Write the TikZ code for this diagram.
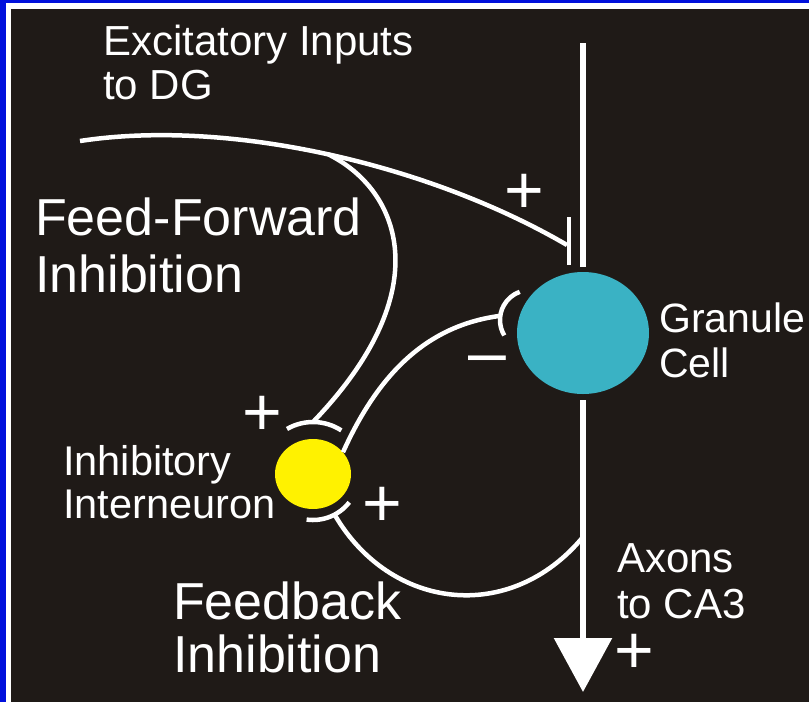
\documentclass[tikz,border=0pt]{standalone}
\usepackage{fontspec}
\setmainfont{Liberation Sans}
\usetikzlibrary{shapes.geometric, arrows.meta}
\definecolor{Frame}   {RGB}{0,   16, 220}
\definecolor{Panel}   {RGB}{31,  26,  23}
\definecolor{Granule} {RGB}{58, 178, 196}
\definecolor{Inter}   {RGB}{255, 242,  0}

\begin{document}
\begin{tikzpicture}[x=1pt, y=-1pt,
  fiber/.style = {draw=white, line width=4.5pt},
  axon/.style  = {draw=white, line width=6pt},
  soma/.style  = {ellipse, draw=none, inner sep=0pt},
  lbl/.style   = {text=white, anchor=base west, align=left, inner sep=0pt},
  sgn/.style   = {text=white, anchor=base, inner sep=0pt,
                  font=\fontsize{68}{68}\selectfont}
]
  %% frame and panel
  \fill[Frame] (0,0) rectangle (809,702);
  \fill[white] (6,3) rectangle (809,702);
  \fill[Panel] (11,9) rectangle (809,702);
  \useasboundingbox (0,0) rectangle (809,702);

  %% cells
  \node[soma, fill=Granule, minimum width=132pt, minimum height=122pt]
    (gran) at (583,333) {};
  \node[soma, fill=Inter, minimum width=76pt, minimum height=70pt]
    (inter) at (313,474) {};

  %% granule cell axon to CA3
  \coordinate (axtop) at (583,43);
  \coordinate (axend) at (583,692);
  \coordinate (fbk)   at (583,537);
  \draw[axon] (axtop) -- ([yshift=5pt]gran.north);
  \draw[axon, -{Triangle[length=54pt, width=57pt]}]
    ([yshift=-6pt]gran.south) -- (axend);

  %% excitatory input and its synapse
  \coordinate (in)    at (80,141);
  \coordinate (exsyn) at (567,245);
  \draw[fiber] (in) .. controls (230,118) and (430,165) ..
    coordinate[pos=0.5] (br) (exsyn);
  \draw[fiber] ([shift={(2,-28)}]exsyn) -- ([shift={(2,20)}]exsyn);

  %% feed-forward branch onto the interneuron
  \coordinate (ffcup) at ([shift={(270:52)}]inter.center);
  \draw[fiber] ([shift={(240:52)}]inter.center)
    arc[start angle=240, end angle=303, radius=52];
  \draw[fiber] (br) .. controls (400,190) and (440,290) .. (ffcup);

  %% interneuron onto granule cell
  \coordinate (gcupc) at ([shift={(-53,-13)}]gran.center);
  \coordinate (gcup)  at ([shift={(188:30)}]gcupc);
  \draw[fiber] ([shift={(149:30)}]gcupc)
    arc[start angle=149, end angle=250, radius=30];
  \draw[fiber] (inter.36) .. controls (380,370) and (430,325) .. (gcup);

  %% feedback collateral
  \coordinate (fbcup) at ([shift={(62:46)}]inter.center);
  \draw[fiber] ([shift={(38:46)}]inter.center)
    arc[start angle=38, end angle=98, radius=46];
  \draw[fiber] (fbk) .. controls (510,625) and (390,610) .. (fbcup);

  %% signs
  \node[sgn] (plusex)  at (524,213) {+};
  \node[sgn] (plusff)  at (262,435) {+};
  \node[sgn] (plusfb)  at (382,526) {+};
  \node[sgn] (plusout) at (634,673) {+};
  \node[sgn] (minusgc) at (487,375) {–};

  %% labels (anchored on the baseline of the last line)
  \node[lbl, font=\fontsize{42}{44}\selectfont] (exlbl) at (103,99)
    {Excitatory Inputs\\to DG};
  \node[lbl, font=\fontsize{52}{57}\selectfont] (fflbl) at (35,292)
    {Feed-Forward\\Inhibition};
  \node[lbl, font=\fontsize{41}{45}\selectfont] (granlbl) at (659,377)
    {Granule\\Cell};
  \node[lbl, font=\fontsize{41.5}{43}\selectfont] (interlbl) at (63,518)
    {Inhibitory\\Interneuron};
  \node[lbl, font=\fontsize{52}{53}\selectfont] (fblbl) at (173,672)
    {Feedback\\Inhibition};
  \node[lbl, font=\fontsize{42}{46}\selectfont] (axlbl) at (617,618)
    {Axons\\to CA3};
\end{tikzpicture}
\end{document}
